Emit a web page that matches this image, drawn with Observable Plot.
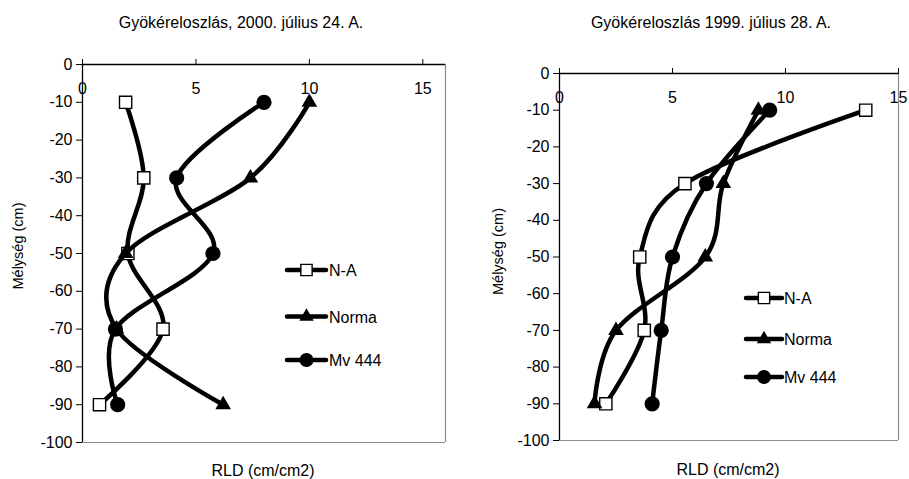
<!DOCTYPE html>
<html><head><meta charset="utf-8">
<script src="https://cdn.jsdelivr.net/npm/d3@7"></script>
<script src="https://cdn.jsdelivr.net/npm/@observablehq/plot@0.6"></script>
<style>
body{margin:0;background:#fff;font-family:"Liberation Sans",Arial,sans-serif;}
#wrap{position:relative;width:909px;height:479px;overflow:hidden;background:#fff;}
#wrap > svg{position:absolute;}
</style></head><body><div id="wrap"></div>
<script>
// ---- data ----
const depths = [-10, -30, -50, -70, -90];
const seriesNames = ["N-A", "Norma", "Mv 444"];
const rld2000_NA    = [1.9, 2.7, 2.0, 3.55, 0.75];
const rld2000_Norma = [10.0, 7.4, 1.9, 1.5, 6.2];
const rld2000_Mv444 = [8.0, 4.15, 5.75, 1.45, 1.55];
const rld1999_NA    = [13.55, 5.55, 3.55, 3.75, 2.05];
const rld1999_Norma = [8.8, 7.25, 6.45, 2.5, 1.55];
const rld1999_Mv444 = [9.3, 6.5, 5.0, 4.5, 4.1];
const yTicks = [0, -10, -20, -30, -40, -50, -60, -70, -80, -90, -100];
const xTicks = [0, 5, 10, 15];
const title2000 = "Gyökéreloszlás, 2000. július 24. A.";
const title1999 = "Gyökéreloszlás 1999. július 28. A.";
const yTitle = "Mélység (cm)";
const xTitle = "RLD (cm/cm2)";

function rows(a, b, c) {
  const out = [];
  [a, b, c].forEach((vals, i) => vals.forEach((v, j) => out.push({series: seriesNames[i], depth: depths[j], rld: v})));
  return out;
}
const data2000 = rows(rld2000_NA, rld2000_Norma, rld2000_Mv444);
const data1999 = rows(rld1999_NA, rld1999_Norma, rld1999_Mv444);

const symbolOf = {"N-A": "square", "Norma": "triangle", "Mv 444": "circle"};
const rOf = {"N-A": 6.9, "Norma": 5.8, "Mv 444": 7.6};
const fillOf = {"N-A": "#fff", "Norma": "#000", "Mv 444": "#000"};

function chart(data, xMax, w, h, ml, mr, mt, mb) {
  const marks = [
    Plot.ruleY([-100], {stroke: "#8c8c8c", strokeWidth: 1.2}),
    Plot.ruleX([xMax], {stroke: "#8c8c8c", strokeWidth: 1.2}),
    Plot.axisY({ticks: yTicks, tickSize: 6, tickPadding: 4, tickFormat: d => String(d), fontSize: 16, label: null}),
    Plot.axisX({anchor: "top", ticks: xTicks, tickSize: 6, tickFormat: () => "", label: null}),
    Plot.text(xTicks, {x: d => d, y: () => 0, dy: 24, text: d => String(d), fontSize: 16, fill: "#000"}),
    Plot.ruleX([0], {stroke: "#000", strokeWidth: 1.3}),
    Plot.ruleY([0], {stroke: "#000", strokeWidth: 1.3})
  ];
  for (const s of seriesNames) {
    const d = data.filter(r => r.series === s);
    marks.push(Plot.line(d, {x: "rld", y: "depth", curve: "cardinal", tension: 0, stroke: "#000", strokeWidth: 4.5, strokeLinejoin: "round", strokeLinecap: "round"}));
    marks.push(Plot.dot(d, {x: "rld", y: "depth", symbol: () => symbolOf[s], r: rOf[s], fill: fillOf[s], stroke: s === "N-A" ? "#000" : "none", strokeWidth: 1.4}));
  }
  return Plot.plot({
    width: w, height: h,
    marginLeft: ml, marginRight: mr, marginTop: mt, marginBottom: mb,
    x: {domain: [0, xMax]},
    y: {domain: [-100, 0]},
    style: {fontFamily: "'Liberation Sans', Arial, sans-serif", fontSize: "16px", color: "#000", background: "transparent", overflow: "visible"},
    marks
  });
}

const wrap = document.getElementById("wrap");
const c1 = chart(data2000, 16, 455, 479, 82, 10, 64, 37);
c1.style.left = "0px"; c1.style.top = "0px";
wrap.appendChild(c1);
const c2 = chart(data1999, 15, 459, 479, 109, 11, 73, 39);
c2.style.left = "450px"; c2.style.top = "0px";
wrap.appendChild(c2);

// overlay: titles, axis titles, legends
const ov = d3.select(wrap).append("svg").attr("width", 909).attr("height", 479)
  .style("left", "0px").style("top", "0px")
  .style("font-family", "'Liberation Sans', Arial, sans-serif");
function txt(x, y, s, size, anchor) {
  ov.append("text").attr("x", x).attr("y", y).attr("font-size", size).attr("text-anchor", anchor || "middle").attr("fill", "#000").text(s);
}
txt(241, 28, title2000, 16);
txt(711, 28, title1999, 16);
txt(263, 476, xTitle, 16);
txt(728, 475, xTitle, 16);
function ytitle(cx, cy) {
  ov.append("text").attr("transform", `translate(${cx},${cy}) rotate(-90)`).attr("dy", "0.35em")
    .attr("font-size", 14.5).attr("text-anchor", "middle").attr("fill", "#000").text(yTitle);
}
ytitle(17.5, 246);
ytitle(497.5, 251.5);

function legend(x1, x2, tx, ys) {
  seriesNames.forEach((s, i) => {
    const y = ys[i], mx = (x1 + x2) / 2;
    ov.append("line").attr("x1", x1).attr("x2", x2).attr("y1", y).attr("y2", y)
      .attr("stroke", "#000").attr("stroke-width", 4.5).attr("stroke-linecap", "round");
    const sym = {square: d3.symbolSquare, triangle: d3.symbolTriangle, circle: d3.symbolCircle}[symbolOf[s]];
    ov.append("path").attr("transform", `translate(${mx},${y})`)
      .attr("d", d3.symbol(sym, Math.PI * rOf[s] * rOf[s] * 0.85)())
      .attr("fill", fillOf[s]).attr("stroke", s === "N-A" ? "#000" : "none").attr("stroke-width", 1.4);
    txt(tx, y + 6, s, 16, "start");
  });
}
legend(287, 326, 329, [270, 316.5, 360]);
legend(746, 782, 784, [298, 339, 377]);
</script>
</body></html>
